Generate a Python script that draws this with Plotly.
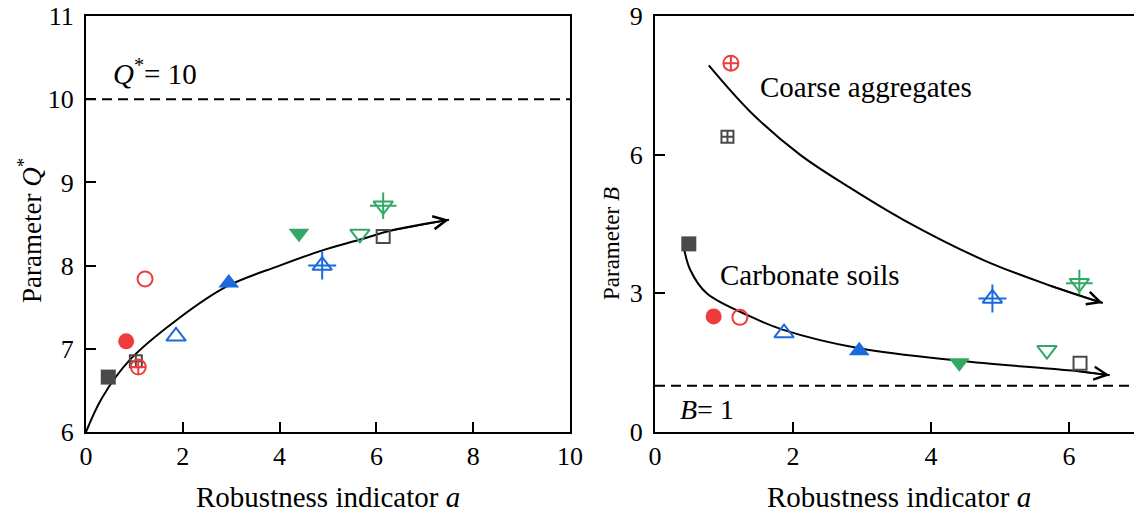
import plotly.graph_objects as go

# ---------------- data ----------------
materials = ["gray_filled_sq", "gray_cross_sq", "gray_open_sq",
             "red_filled_circ", "red_open_circ", "red_cross_circ",
             "blue_filled_tri", "blue_open_tri", "blue_cross_tri",
             "green_filled_down", "green_open_down", "green_cross_down"]

left_a = [0.46, 1.03, 6.14, 0.83, 1.22, 1.08, 2.95, 1.86, 4.88, 4.40, 5.66, 6.14]
left_Q = [6.66, 6.85, 8.35, 7.09, 7.84, 6.78, 7.79, 7.15, 8.00, 8.39, 8.38, 8.72]

right_a = [0.49, 1.05, 6.16, 0.85, 1.23, 1.10, 2.96, 1.87, 4.89, 4.41, 5.68, 6.15]
right_B = [4.07, 6.39, 1.49, 2.50, 2.48, 7.98, 1.76, 2.14, 2.89, 1.50, 1.77, 3.22]

# trend curves
left_curve_a = [0.0, 0.33, 0.91, 1.88, 2.91, 4.0, 4.87, 5.65, 6.29, 7.5]
left_curve_Q = [6.0, 6.41, 6.87, 7.35, 7.75, 8.0, 8.18, 8.31, 8.42, 8.55]

coarse_curve_a = [0.78, 1.38, 2.10, 2.83, 3.60, 4.76, 5.72, 6.49]
coarse_curve_B = [7.93, 6.93, 6.00, 5.28, 4.59, 3.72, 3.17, 2.79]

carb_curve_a = [0.41, 0.51, 0.75, 1.38, 1.86, 2.96, 4.41, 6.16, 6.59]
carb_curve_B = [4.05, 3.51, 3.00, 2.50, 2.21, 1.81, 1.54, 1.31, 1.23]

Q_ref = 10
B_ref = 1

left_xticks = [0, 2, 4, 6, 8, 10]
left_yticks = [6, 7, 8, 9, 10, 11]
right_xticks = [0, 2, 4, 6]
right_yticks = [0, 3, 6, 9]

# ---------------- styles ----------------
GRAY = "#4a4a4a"
RED = "#ee3c3c"
BLUE = "#1a6ade"
GREEN = "#33a865"

styles = {
    "gray_filled_sq": (GRAY, ["square"], [15]),
    "gray_cross_sq": (GRAY, ["square-cross-open"], [12]),
    "gray_open_sq": (GRAY, ["square-open"], [13]),
    "red_filled_circ": (RED, ["circle"], [16]),
    "red_open_circ": (RED, ["circle-open"], [15]),
    "red_cross_circ": (RED, ["circle-cross-open"], [15]),
    "blue_filled_tri": (BLUE, ["triangle-up"], [18]),
    "blue_open_tri": (BLUE, ["triangle-up-open"], [17]),
    "blue_cross_tri": (BLUE, ["triangle-up-open", "cross-thin-open"], [17, 20]),
    "green_filled_down": (GREEN, ["triangle-down"], [18]),
    "green_open_down": (GREEN, ["triangle-down-open"], [17]),
    "green_cross_down": (GREEN, ["triangle-down-open", "cross-thin-open"], [17, 19]),
}

FONT = "Liberation Serif"
TICK_SIZE = 26
TITLE_SIZE = 29

fig = go.Figure()


def add_markers(xs, ys, xa, ya):
    for name, x, y in zip(materials, xs, ys):
        color, symbols, sizes = styles[name]
        for sym, sz in zip(symbols, sizes):
            is_open = "open" in sym
            fig.add_trace(go.Scatter(
                x=[x], y=[y], mode="markers", xaxis=xa, yaxis=ya,
                showlegend=False, hoverinfo="skip",
                marker=dict(symbol=sym, size=sz, color=color,
                            line=dict(width=2 if is_open else 0, color=color)),
            ))


def add_curve(xs, ys, xa, ya):
    fig.add_trace(go.Scatter(
        x=xs, y=ys, mode="lines", xaxis=xa, yaxis=ya, showlegend=False,
        hoverinfo="skip", line=dict(color="black", width=2, shape="spline", smoothing=1.0),
    ))
    fig.add_annotation(
        x=xs[-1], y=ys[-1], ax=xs[-2], ay=ys[-2],
        xref=xa, yref=ya, axref=xa, ayref=ya,
        showarrow=True, arrowhead=5, arrowsize=1.6, arrowwidth=1.6,
        arrowcolor="black", standoff=0, startstandoff=0, text="",
    )


# curves first, markers on top
add_curve(left_curve_a, left_curve_Q, "x", "y")
add_curve(coarse_curve_a, coarse_curve_B, "x2", "y2")
add_curve(carb_curve_a, carb_curve_B, "x2", "y2")
add_markers(left_a, left_Q, "x", "y")
add_markers(right_a, right_B, "x2", "y2")

W, H = 1134, 516
LEFT_DOM = [86 / W, 570 / W]
RIGHT_DOM = [655 / W, 1.0]
RIGHT_XMAX = (W - 655) / 69.0

axis_common = dict(
    showline=True, linecolor="black", linewidth=2,
    ticks="inside", ticklen=10, tickwidth=2, tickcolor="black",
    showgrid=False, zeroline=False, automargin=False,
    tickfont=dict(family=FONT, size=TICK_SIZE, color="black"),
)

fig.update_layout(
    width=W, height=H,
    margin=dict(l=0, r=0, t=16, b=84),
    paper_bgcolor="white", plot_bgcolor="white",
    xaxis=dict(domain=LEFT_DOM, range=[0, 10], tickvals=left_xticks, mirror=True,
               anchor="y", **axis_common),
    yaxis=dict(range=[6, 11], tickvals=left_yticks, mirror=True, anchor="x",
               ticklabelstandoff=5, **axis_common),
    xaxis2=dict(domain=RIGHT_DOM, range=[0, RIGHT_XMAX], tickvals=right_xticks, mirror=True,
                anchor="y2", **axis_common),
    yaxis2=dict(range=[0, 9], tickvals=right_yticks, mirror=False, anchor="x2",
                ticklabelstandoff=5, **axis_common),
)

# reference dashed lines
fig.add_shape(type="line", xref="x", yref="y", x0=0, x1=10, y0=Q_ref, y1=Q_ref,
              line=dict(color="black", width=2, dash="10px,6px"))
fig.add_shape(type="line", xref="x2", yref="y2", x0=0, x1=RIGHT_XMAX, y0=B_ref, y1=B_ref,
              line=dict(color="black", width=2, dash="10px,6px"))

tfont = dict(family=FONT, size=TITLE_SIZE, color="black")

# axis titles as annotations
fig.add_annotation(text="Robustness indicator <i>a</i>", xref="paper", yref="paper",
                   x=328 / W, y=-(497 - 432) / (432 - 16), showarrow=False, font=tfont,
                   xanchor="center", yanchor="middle")
fig.add_annotation(text="Robustness indicator <i>a</i>", xref="paper", yref="paper",
                   x=899 / W, y=-(497 - 432) / (432 - 16), showarrow=False, font=tfont,
                   xanchor="center", yanchor="middle")
fig.add_annotation(text="Parameter <i>Q</i><sup>*</sup>", xref="paper", yref="paper",
                   x=30 / W, y=(432 - 231) / (432 - 16), showarrow=False,
                   font=dict(family=FONT, size=27, color="black"),
                   textangle=-90, xanchor="center", yanchor="middle")
fig.add_annotation(text="Parameter <i>B</i>", xref="paper", yref="paper",
                   x=611 / W, y=(432 - 244) / (432 - 16), showarrow=False,
                   font=dict(family=FONT, size=23, color="black"),
                   textangle=-90, xanchor="center", yanchor="middle")

# in-plot labels
fig.add_annotation(text="<i>Q</i><sup>*</sup>= 10", xref="x", yref="y", x=0.52, y=10.33,
                   showarrow=False, font=tfont, xanchor="left", yanchor="middle")
fig.add_annotation(text="<i>B</i>= 1", xref="x2", yref="y2", x=0.33, y=0.48,
                   showarrow=False, font=dict(family=FONT, size=28, color="black"),
                   xanchor="left", yanchor="middle")
fig.add_annotation(text="Coarse aggregates", xref="x2", yref="y2", x=1.49, y=7.47,
                   showarrow=False, font=tfont, xanchor="left", yanchor="middle")
fig.add_annotation(text="Carbonate soils", xref="x2", yref="y2", x=0.91, y=3.40,
                   showarrow=False, font=tfont, xanchor="left", yanchor="middle")

fig.write_html("out.html")
